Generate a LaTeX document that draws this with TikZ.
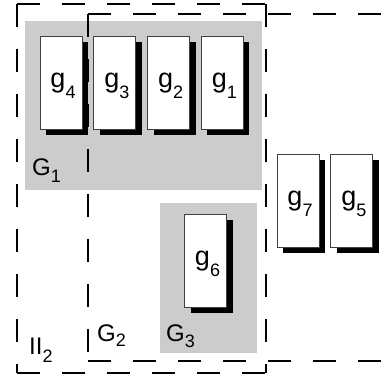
\documentclass[tikz,border=0pt]{standalone}
\usepackage{fontspec}
\setmainfont{Liberation Sans}
\usetikzlibrary{positioning, shadows}
\tikzset{
  gbox/.style={
    rectangle, draw=black!75, fill=white,
    line width=0.8pt, inner sep=0pt,
    minimum width=42pt, minimum height=93pt,
    text height=14pt, text depth=4pt,
    font=\fontsize{27}{27}\selectfont,
    drop shadow={shadow xshift=6pt, shadow yshift=-6pt, fill=black, opacity=1}
  },
  group/.style={fill=black!20},
  zone/.style={draw=black, line width=2pt, dash pattern=on 23pt off 22pt},
  glabel/.style={anchor=base west, inner sep=0pt, font=\fontsize{24}{24}\selectfont}
}
\newcommand{\gsmall}[1]{\kern4pt g\raisebox{-11pt}{\fontsize{18}{18}\selectfont #1}}
\newcommand{\lowsub}[2]{\raisebox{-#1}{\fontsize{18}{18}\selectfont #2}}

\begin{document}
\begin{tikzpicture}[x=1pt, y=-1pt, node distance=11pt]
\useasboundingbox (0,0) rectangle (386,379);

% groups
\fill[group] (25,21) rectangle (262,190);
\fill[group] (160,203) rectangle (257,353);

% dashed zones
\draw[zone] (17,4) -- (266,4);
\draw[zone] (266,4) -- (266,373);
\draw[zone] (17,4) -- (17,373);
\draw[zone] (17,373) -- (266,373);

\draw[zone] (88,14) -- (400,14);
\draw[zone] (88,14) -- (88,361);
\draw[zone] (88,361) -- (400,361);

% boxes
\node[gbox] (g4) at (61,82.5) {\gsmall{4}};
\node[gbox, right=of g4] (g3) {\gsmall{3}};
\node[gbox, right=of g3] (g2) {\gsmall{2}};
\node[gbox, right=of g2] (g1) {\gsmall{1}};

\node[gbox] (g7) at (298,200.5) {\gsmall{7}};
\node[gbox, right=of g7] (g5) {\gsmall{5}};

\node[gbox] (g6) at (205.5,260.5) {\gsmall{6}};

% labels
\node[glabel] (G1) at (32,176) {G\lowsub{7pt}{1}};
\node[glabel] (G2) at (97,342) {G\lowsub{5pt}{2}};
\node[glabel] (G3) at (166,342) {G\lowsub{6pt}{3}};
\node[glabel] (P2) at (29,355) {II\lowsub{8pt}{2}};

\end{tikzpicture}
\end{document}
